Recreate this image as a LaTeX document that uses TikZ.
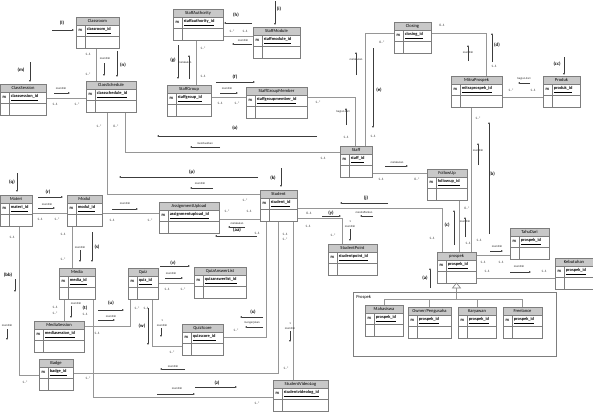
\documentclass[tikz,border=0pt]{standalone}
\usepackage{fontspec}
\setmainfont{Carlito}
\usetikzlibrary{arrows.meta,calc,backgrounds}
\definecolor{eline}{RGB}{125,125,125}
\definecolor{hdr}{RGB}{200,200,200}
\definecolor{cline}{RGB}{150,150,150}
\definecolor{aline}{RGB}{60,60,60}
\newcommand\txhdr{\fontsize{3.4}{4}\selectfont}
\newcommand\txid{\bfseries\fontsize{3.3}{4}\selectfont}
\newcommand\txpk{\bfseries\fontsize{2.6}{3}\selectfont}
\newcommand\txcard{\fontsize{2.6}{3}\selectfont}
\newcommand\txrel{\fontsize{2.2}{2.6}\selectfont}
\newcommand\txlet{\bfseries\fontsize{3.6}{4}\selectfont}
\tikzset{
 entnode/.style={inner sep=0pt,outer sep=0pt,minimum height=23.25pt,draw=none},
 eln/.style={draw=eline,line width=0.45pt},
 conn/.style={draw=cline,line width=0.6pt},
 sarr/.style={-{Latex[length=1.4pt,width=1.3pt]},line width=0.22pt,draw=aline},
 card/.style={font=\txcard,inner sep=0pt,text=black!85},
 rel/.style={font=\txrel,inner sep=0pt,text=black!85},
 lett/.style={font=\txlet,inner sep=0pt},
}
\newcommand\ent[6]{%
 \node[entnode,minimum width=#4*0.75pt,anchor=north west] (#1) at (#2,#3) {};
 \fill[white] (#2,#3) rectangle (#2+#4,#3+31);
 \fill[hdr] (#2,#3) rectangle (#2+#4,#3+8);
 \draw[eln] (#2,#3) rectangle (#2+#4,#3+31);
 \draw[eln] (#2,#3+8) -- (#2+#4,#3+8) (#2,#3+19) -- (#2+#4,#3+19) (#2+9,#3+8) -- (#2+9,#3+31);
 \node[font=\txhdr,inner sep=0pt] at (#2+#4/2,#3+4) {#5};
 \node[font=\txpk,inner sep=0pt] at (#2+4.5,#3+13.5) {PK};
 \node[font=\txid,anchor=west,inner sep=0pt] at (#2+10.5,#3+13.5) {\underline{#6}};
}
\begin{document}
\begin{tikzpicture}[x=0.75pt,y=-0.75pt]
\useasboundingbox (0,0) rectangle (593,411);
% frame of subtypes
\node[draw=eline,line width=0.45pt,inner sep=0pt,anchor=north west,minimum width=203*0.75pt,minimum height=64*0.75pt] (frame) at (353,292) {};
\node[font=\txhdr,anchor=west,inner sep=0pt] (framelabel) at (356,297) {Prospek};
% entities
\ent{Classroom}{76}{17}{43}{Classroom}{classroom\_id}
\ent{ClassSession}{0}{84}{46}{ClassSession}{classsession\_id}
\ent{ClassSchedule}{86}{81}{50}{ClassSchedule}{classschedule\_id}
\ent{StaffAuthority}{173}{9}{50}{StaffAuthority}{staffauthority\_id}
\ent{StaffModule}{253}{27}{47}{StaffModule}{staffmodule\_id}
\ent{StaffGroup}{167}{85}{44}{StaffGroup}{staffgroup\_id}
\ent{StaffGroupMember}{246}{87}{61}{StaffGroupMember}{staffgroupmember\_id}
\ent{Closing}{394}{22}{37}{Closing}{closing\_id}
\ent{MitraProspek}{451}{76}{51}{MitraProspek}{mitraprospek\_id}
\ent{Produk}{543}{76}{37}{Produk}{produk\_id}
\ent{Staff}{340}{146}{32}{Staff}{staff\_id}
\ent{FollowUp}{427}{169}{40}{FollowUp}{followup\_id}
\ent{Materi}{0}{195}{32}{Materi}{materi\_id}
\ent{Modul}{67}{195}{35}{Modul}{modul\_id}
\ent{AssignmentUpload}{159}{202}{60}{AssignmentUpload}{assignmentupload\_id}
\ent{Student}{260}{190}{37}{Student}{student\_id}
\ent{StudentPoint}{328}{244}{49}{StudentPoint}{studentpoint\_id}
\ent{prospek}{437}{252}{39}{prospek}{prospek\_id}
\ent{TahuDari}{510}{228}{39}{TahuDari}{prospek\_id}
\ent{Kebutuhan}{555}{258}{38}{Kebutuhan}{prospek\_id}
\ent{Media}{59}{268}{36}{Media}{media\_id}
\ent{Quiz}{128}{268}{30}{Quiz}{quiz\_id}
\ent{QuizAnswerList}{194}{267}{52}{QuizAnswerList}{quizanswerlist\_id}
\ent{QuizScore}{182}{324}{41}{QuizScore}{quizscore\_id}
\ent{MediaSession}{34}{321}{50}{MediaSession}{mediasession\_id}
\ent{Badge}{39}{359}{34}{Badge}{badge\_id}
\ent{StudentVideoLog}{273}{380}{55}{StudentVideoLog}{studentvideolog\_id}
\ent{Mahasiswa}{365}{305}{38}{Mahasiswa}{prospek\_id}
\ent{Owner}{408}{307}{43}{Owner/Pengusaha}{prospek\_id}
\ent{Karyawan}{458}{307}{38}{Karyawan}{prospek\_id}
\ent{Freelance}{503}{307}{39}{Freelance}{prospek\_id}
% connectors
\begin{pgfonlayer}{background}
\draw[conn] (96,0 |- Classroom.south) -- (96,0 |- ClassSchedule.north);
\draw[conn] (ClassSession.east |- 0,98) -- (ClassSchedule.west |- 0,98);
\draw[conn] (125,0 |- ClassSchedule.south) -- (125,152) -- (Staff.west |- 0,152);
\draw[conn] (107,0 |- ClassSchedule.south) -- (107,194) -- (Student.west |- 0,194);
\draw[conn] (StaffAuthority.east |- 0,36) -- (StaffModule.west |- 0,36);
\draw[conn] (196,0 |- StaffAuthority.south) -- (196,0 |- StaffGroup.north);
\draw[conn] (StaffGroup.east |- 0,97) -- (StaffGroupMember.west |- 0,97);
\draw[conn] (StaffGroupMember.east |- 0,97) -- (355,97) -- (355,0 |- Staff.north);
\draw[conn] (Closing.west |- 0,33) -- (365,33) -- (365,0 |- Staff.north);
\draw[conn] (Closing.east |- 0,33) -- (486,33) -- (486,0 |- MitraProspek.north);
\draw[conn] (MitraProspek.east |- 0,97) -- (Produk.west |- 0,97);
\draw[conn] (471,0 |- MitraProspek.south) -- (471,0 |- prospek.north);
\draw[conn] (459,0 |- FollowUp.south) -- (459,0 |- prospek.north);
\draw[conn] (Staff.east |- 0,173) -- (FollowUp.west |- 0,173);
\draw[conn] (Student.east |- 0,208) -- (442,208) -- (442,0 |- prospek.north);
\draw[conn] (Student.east |- 0,218) -- (342,218) -- (342,0 |- StudentPoint.north);
\draw[conn] (AssignmentUpload.east |- 0,219) -- (Student.west |- 0,219);
\draw[conn] (266,0 |- Student.south) -- (266,337) -- (QuizScore.east |- 0,337);
\draw[conn] (278,0 |- Student.south) -- (278,373) -- (Badge.east |- 0,373);
\draw[conn] (293,0 |- Student.south) -- (293,0 |- StudentVideoLog.north);
\draw[conn] (93,0 |- Media.south) -- (93,397) -- (StudentVideoLog.west |- 0,397);
\draw[conn] (MediaSession.east |- 0,326) -- (130,326) -- (130,0 |- Quiz.south);
\draw[conn] (64,0 |- Media.south) -- (64,0 |- MediaSession.north);
\draw[conn] (Quiz.east |- 0,283) -- (QuizAnswerList.west |- 0,283);
\draw[conn] (152,0 |- Quiz.south) -- (152,346) -- (QuizScore.west |- 0,346);
\draw[conn] (72,0 |- Modul.south) -- (72,0 |- Media.north);
\draw[conn] (Materi.east |- 0,213) -- (Modul.west |- 0,213);
\draw[conn] (Modul.east |- 0,213) -- (AssignmentUpload.west |- 0,213);
\draw[conn] (19,0 |- Materi.south) -- (19,375) -- (Badge.west |- 0,375);
\draw[conn] (prospek.east |- 0,255) -- (TahuDari.west |- 0,255);
\draw[conn] (prospek.east |- 0,278) -- (Kebutuhan.west |- 0,278);
% generalization
\draw[conn] ($(prospek.south)+(0,5)$) -- ($(prospek.south)+(0,16)$);
\draw[conn] (Mahasiswa.north |- 0,299) -- (Freelance.north |- 0,299);
\draw[conn] (Mahasiswa.north) -- (Mahasiswa.north |- 0,299);
\draw[conn] (Owner.north) -- (Owner.north |- 0,299);
\draw[conn] (Karyawan.north) -- (Karyawan.north |- 0,299);
\draw[conn] (Freelance.north) -- (Freelance.north |- 0,299);
\end{pgfonlayer}
\draw[eln,fill=white] (prospek.south) -- ++(-4,5) -- ++(8,0) -- cycle;
% Classroom - ClassSchedule
\node[card] at (88,54) {1..1}; \node[card] at (88,74) {1..*};
\node[rel] at (105,58) {memiliki}; \draw[sarr] (104,63) -- (104,76);
\node[lett] at (123,65) {(n)}; \draw[sarr] (117,51) -- (117,77);
\node[lett] at (62,23) {(l)}; \draw[sarr] (52,30) -- (74,30);
\node[lett] at (21,70) {(m)}; \draw[sarr] (30,62) -- (30,82);
% ClassSession - ClassSchedule
\node[card] at (55,104) {1..1}; \node[card] at (77,104) {1..*};
\node[rel] at (61,88) {memiliki}; \draw[sarr] (54,93) -- (70,93);
% ClassSchedule - Staff / Student
\node[card] at (99,126) {1..*}; \node[card] at (116,126) {0..*};
\node[card] at (323,158) {1..1};
\node[rel] at (205,143) {membuatkan}; \draw[sarr] (220,147) -- (190,147);
\node[card] at (245,200) {1..*};
\node[rel] at (200,183) {memiliki}; \draw[sarr] (213,188) -- (190,188);
\node[lett] at (235,128) {(o)}; \draw[sarr] (317,136) -- (157,136);
\node[lett] at (192,172) {(p)}; \draw[sarr] (258,177) -- (119,177);
\node[lett] at (273,178) {(k)}; \draw[sarr] (281,168) -- (281,187);
% Staff authority etc
\node[card] at (232,31) {1..*}; \node[card] at (245,31) {1..1};
\node[lett] at (236,15) {(h)}; \draw[sarr] (252,23) -- (224,23);
\node[rel] at (243,40) {memiliki}; \draw[sarr] (252,44) -- (232,44);
\node[lett] at (279,9) {(i)}; \draw[sarr] (275,1) -- (275,25);
\node[card] at (203,48) {1..*}; \node[card] at (203,76) {1..1};
\node[lett] at (173,60) {(g)}; \draw[sarr] (178,45) -- (178,79);
\node[rel] at (185,62) {melakukan}; \draw[sarr] (189,79) -- (189,55);
\node[card] at (220,103) {1..1}; \node[card] at (237,103) {1..*};
\node[rel] at (227,88) {memiliki}; \draw[sarr] (220,93) -- (238,93);
\node[lett] at (235,77) {(f)}; \draw[sarr] (216,82) -- (255,82);
\node[card] at (318,102) {1..*};
\node[rel] at (343,112) {bagian dari}; \draw[sarr] (346,125) -- (346,108);
\node[card] at (346,137) {1..1};
% Closing
\node[card] at (382,42) {0..*};
\node[rel] at (356,59) {melakukan}; \draw[sarr] (356,75) -- (356,52);
\node[lett] at (379,90) {(e)}; \draw[sarr] (373,48) -- (373,128);
\node[card] at (373,136) {1..1};
\node[card] at (442,25) {0..1}; \node[card] at (494,66) {1..1};
\node[lett] at (497,45) {(d)}; \draw[sarr] (492,62) -- (492,33);
\node[rel] at (468,52) {memiliki}; \draw[sarr] (468,61) -- (468,45);
% MitraProspek
\node[card] at (511,90) {1..*}; \node[card] at (533,90) {1..1};
\node[rel] at (524,79) {bagian dari}; \draw[sarr] (530,83) -- (518,83);
\node[lett] at (557,64) {(cc)}; \draw[sarr] (564,57) -- (564,75);
\node[card] at (478,118) {1..*};
\node[rel] at (478,150) {memiliki}; \draw[sarr] (478,165) -- (478,143);
\node[card] at (479,240) {1..1};
\node[lett] at (492,174) {(b)}; \draw[sarr] (489,234) -- (489,122);
% FollowUp - prospek
\node[card] at (467,208) {0..*};
\node[rel] at (465,221) {memiliki}; \draw[sarr] (465,237) -- (465,217);
\node[card] at (468,243) {1..1};
\node[lett] at (447,225) {(c)}; \draw[sarr] (454,245) -- (454,210);
% Staff - FollowUp
\node[rel] at (397,162) {melakukan}; \draw[sarr] (385,166) -- (408,166);
\node[card] at (381,179) {1..1}; \node[card] at (417,179) {0..*};
% Student - prospek / StudentPoint
\node[card] at (309,213) {0..1}; \node[card] at (432,238) {1..1};
\node[lett] at (366,198) {(j)}; \draw[sarr] (388,203) -- (340,203);
\node[rel] at (364,212) {mendaftarkan}; \draw[sarr] (373,216) -- (360,216);
\node[card] at (308,226) {1..1}; \node[card] at (333,235) {1..*};
\node[lett] at (331,213) {(y)}; \draw[sarr] (322,216) -- (341,216);
\node[rel] at (350,222) {1}; \node[rel] at (350,226) {memiliki}; \draw[sarr] (350,229) -- (350,241);
% AssignmentUpload - Student
\node[card] at (227,211) {1..*}; \node[card] at (249,211) {1..1};
\node[rel] at (237,223) {melakukan}; \draw[sarr] (245,227) -- (228,227);
\node[lett] at (237,230) {(aa)}; \draw[sarr] (257,236) -- (215,236);
\node[card] at (257,233) {1..1};
% Student downwards
\node[card] at (285,234) {1..1}; \node[card] at (285,239) {1..*};
\node[card] at (236,330) {1..*};
\node[lett] at (253,312) {(x)}; \draw[sarr] (263,317) -- (240,317);
\node[rel] at (252,323) {mengerjakan}; \draw[sarr] (263,327) -- (245,327);
\node[rel] at (173,366) {memiliki}; \draw[sarr] (185,369) -- (160,369);
\node[card] at (286,368) {1..*};
\node[rel] at (290,324) {1}; \node[rel] at (290,328) {memiliki}; \draw[sarr] (290,331) -- (290,342);
% Media - StudentVideoLog
\node[rel] at (177,388) {memiliki}; \draw[sarr] (157,394) -- (195,394);
\node[lett] at (217,383) {(z)}; \draw[sarr] (195,387) -- (237,387);
\node[card] at (257,403) {1..*}; \node[card] at (88,378) {1..*};
\node[card] at (97,333) {1..1};
% MediaSession - Quiz
\node[lett] at (111,303) {(u)}; \draw[sarr] (98,310) -- (124,310);
\node[rel] at (111,316) {memiliki}; \draw[sarr] (98,320) -- (115,320);
\node[card] at (137,308) {1..*}; \node[card] at (146,308) {1..1};
% Media - MediaSession
\node[card] at (55,307) {1..1}; \node[card] at (55,313) {1..*};
\node[rel] at (76,303) {memiliki}; \draw[sarr] (71,306) -- (71,318);
\node[lett] at (85,308) {(t)}; \node[card] at (85,314) {1..1};
% Quiz - QuizAnswerList / QuizScore
\node[lett] at (173,263) {(v)}; \draw[sarr] (160,266) -- (190,266);
\node[rel] at (171,273) {memiliki}; \draw[sarr] (165,278) -- (183,278);
\node[card] at (167,289) {1..1}; \node[card] at (183,289) {1..*};
\node[rel] at (162,321) {1}; \node[rel] at (162,325) {memiliki}; \draw[sarr] (161,328) -- (161,337);
\node[lett] at (142,326) {(w)}; \draw[sarr] (148,308) -- (148,345);
\node[card] at (172,352) {1..*};
% Modul - Media
\node[card] at (63,234) {1..1}; \node[card] at (63,259) {1..*};
\node[rel] at (80,247) {memiliki}; \draw[sarr] (80,250) -- (80,262);
\node[lett] at (97,247) {(s)}; \draw[sarr] (92,232) -- (92,262);
% Materi - Modul - AssignmentUpload
\node[lett] at (48,192) {(r)}; \draw[sarr] (38,197) -- (63,197);
\node[rel] at (47,204) {memiliki}; \draw[sarr] (38,208) -- (55,208);
\node[card] at (40,219) {1..1}; \node[card] at (57,219) {1..*};
\node[rel] at (125,203) {memiliki}; \draw[sarr] (112,209) -- (138,209);
\node[card] at (112,220) {1..1}; \node[card] at (150,220) {1..*};
\node[lett] at (12,182) {(q)}; \draw[sarr] (17,173) -- (17,192);
% Materi - Badge
\node[card] at (12,237) {1..1};
\node[lett] at (8,275) {(bb)}; \draw[sarr] (15,279) -- (15,292);
\node[rel] at (7,325) {memiliki}; \draw[sarr] (7,329) -- (7,340);
\node[card] at (25,382) {1..*};
% prospek - TahuDari / Kebutuhan
\node[rel] at (497,246) {memiliki}; \draw[sarr] (490,251) -- (503,251);
\node[card] at (483,262) {1..1}; \node[card] at (501,262) {1..1};
\node[rel] at (519,266) {memiliki}; \draw[sarr] (510,272) -- (531,272);
\node[card] at (487,271) {1..1}; \node[card] at (544,271) {1..1};
\node[lett] at (425,278) {(a)}; \draw[sarr] (430,288) -- (430,268);
\end{tikzpicture}
\end{document}
